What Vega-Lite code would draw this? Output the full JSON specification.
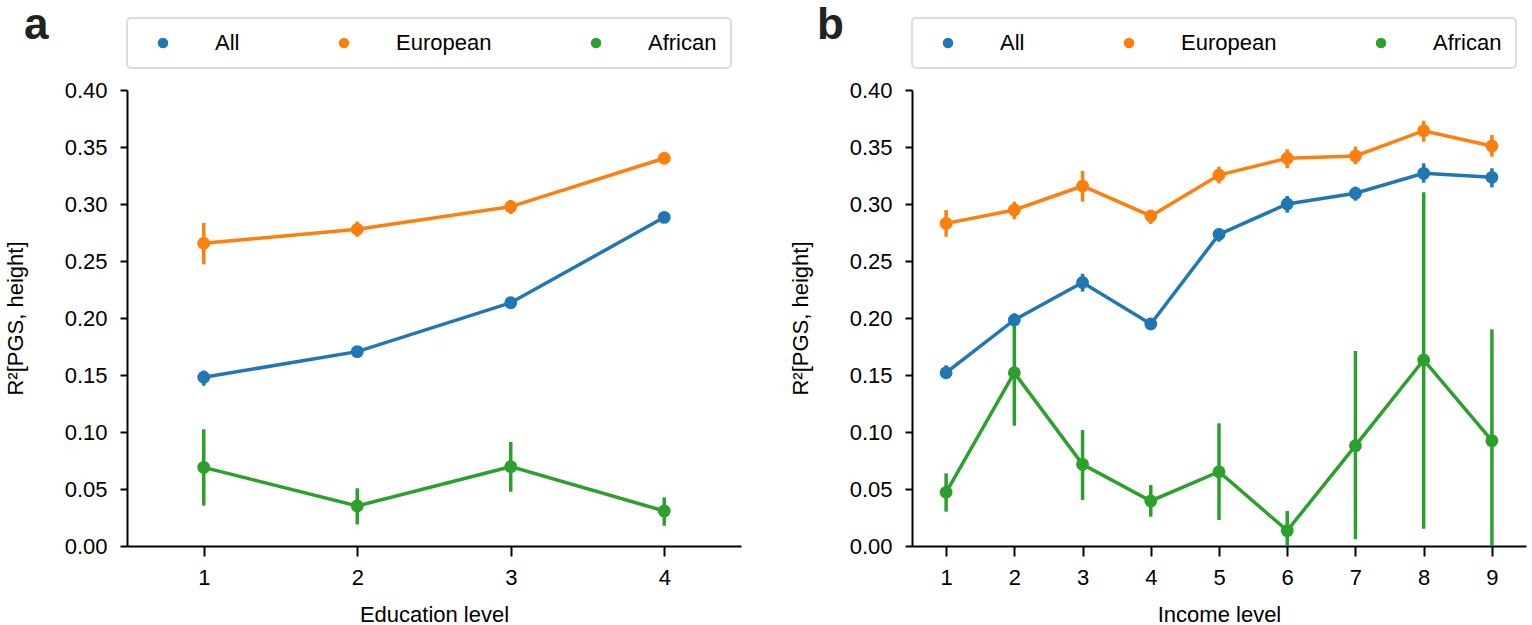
{
  "$schema": "https://vega.github.io/schema/vega-lite/v6.json",
  "background": "white",
  "padding": {"left": 4, "top": 3, "right": 5, "bottom": 0},
  "spacing": 171,
  "bounds": "flush",
  "datasets": {
    "edu": [
      {"level": 1, "group": "All", "r2": 0.148, "lo": 0.1406, "hi": 0.1539},
      {"level": 2, "group": "All", "r2": 0.1705, "lo": 0.1661, "hi": 0.1741},
      {"level": 3, "group": "All", "r2": 0.2134, "lo": 0.2104, "hi": 0.2164},
      {"level": 4, "group": "All", "r2": 0.2883, "lo": 0.2853, "hi": 0.2913},
      {"level": 1, "group": "European", "r2": 0.2655, "lo": 0.2471, "hi": 0.2834},
      {"level": 2, "group": "European", "r2": 0.2778, "lo": 0.2713, "hi": 0.2845},
      {"level": 3, "group": "European", "r2": 0.2977, "lo": 0.2912, "hi": 0.3035},
      {"level": 4, "group": "European", "r2": 0.3401, "lo": 0.3381, "hi": 0.3421},
      {"level": 1, "group": "African", "r2": 0.069, "lo": 0.0354, "hi": 0.1024},
      {"level": 2, "group": "African", "r2": 0.0351, "lo": 0.019, "hi": 0.0506},
      {"level": 3, "group": "African", "r2": 0.0696, "lo": 0.0476, "hi": 0.0912},
      {"level": 4, "group": "African", "r2": 0.0307, "lo": 0.0178, "hi": 0.0427}
    ],
    "inc": [
      {"level": 1, "group": "All", "r2": 0.152, "lo": 0.1471, "hi": 0.1585},
      {"level": 2, "group": "All", "r2": 0.1983, "lo": 0.1924, "hi": 0.2041},
      {"level": 3, "group": "All", "r2": 0.2311, "lo": 0.2231, "hi": 0.2388},
      {"level": 4, "group": "All", "r2": 0.1947, "lo": 0.1927, "hi": 0.1967},
      {"level": 5, "group": "All", "r2": 0.2734, "lo": 0.267, "hi": 0.2787},
      {"level": 6, "group": "All", "r2": 0.3, "lo": 0.2924, "hi": 0.307},
      {"level": 7, "group": "All", "r2": 0.3094, "lo": 0.3029, "hi": 0.3152},
      {"level": 8, "group": "All", "r2": 0.3269, "lo": 0.3187, "hi": 0.3357},
      {"level": 9, "group": "All", "r2": 0.3234, "lo": 0.3146, "hi": 0.3313},
      {"level": 1, "group": "European", "r2": 0.283, "lo": 0.2713, "hi": 0.2947},
      {"level": 2, "group": "European", "r2": 0.2947, "lo": 0.2866, "hi": 0.302},
      {"level": 3, "group": "European", "r2": 0.3158, "lo": 0.302, "hi": 0.329},
      {"level": 4, "group": "European", "r2": 0.2895, "lo": 0.2825, "hi": 0.2947},
      {"level": 5, "group": "European", "r2": 0.3254, "lo": 0.3181, "hi": 0.3327},
      {"level": 6, "group": "European", "r2": 0.3401, "lo": 0.3313, "hi": 0.348},
      {"level": 7, "group": "European", "r2": 0.3421, "lo": 0.3348, "hi": 0.3503},
      {"level": 8, "group": "European", "r2": 0.3643, "lo": 0.3547, "hi": 0.3731},
      {"level": 9, "group": "European", "r2": 0.3509, "lo": 0.3415, "hi": 0.3605},
      {"level": 1, "group": "African", "r2": 0.0471, "lo": 0.0301, "hi": 0.0637},
      {"level": 2, "group": "African", "r2": 0.152, "lo": 0.1055, "hi": 0.1997},
      {"level": 3, "group": "African", "r2": 0.0716, "lo": 0.0404, "hi": 0.1018},
      {"level": 4, "group": "African", "r2": 0.0395, "lo": 0.0257, "hi": 0.0535},
      {"level": 5, "group": "African", "r2": 0.0652, "lo": 0.0228, "hi": 0.1076},
      {"level": 6, "group": "African", "r2": 0.0135, "lo": 0.0, "hi": 0.0307},
      {"level": 7, "group": "African", "r2": 0.088, "lo": 0.0059, "hi": 0.1711},
      {"level": 8, "group": "African", "r2": 0.1632, "lo": 0.0152, "hi": 0.3103},
      {"level": 9, "group": "African", "r2": 0.0924, "lo": 0.0, "hi": 0.1901}
    ]
  },
  "hconcat": [
    {
      "data": {"name": "edu"},
      "width": 614,
      "height": 456,
      "title": {"text": "a", "anchor": "start", "frame": "group", "dx": -103, "dy": 30.5, "fontSize": 44, "fontWeight": "bold", "font": "Liberation Sans", "color": "#222222", "offset": 0},
      "encoding": {
        "x": {"field": "level", "type": "quantitative", "scale": {"domain": [0.5, 4.5], "nice": false, "zero": false}, "axis": {"title": "Education level", "values": [1, 2, 3, 4], "format": "d"}},
        "color": {"field": "group", "type": "nominal", "scale": {"domain": ["All", "European", "African"], "range": ["#1f77b4", "#ff7f0e", "#2ca02c"]}, "legend": {"title": null}}
      },
      "layer": [
        {"mark": {"type": "rule", "strokeWidth": 3.5}, "encoding": {"y": {"field": "lo", "type": "quantitative", "scale": {"domain": [0, 0.4], "nice": false}, "axis": {"title": "R²[PGS, height]", "values": [0, 0.05, 0.1, 0.15, 0.2, 0.25, 0.3, 0.35, 0.4], "format": ".2f"}}, "y2": {"field": "hi"}}},
        {"mark": {"type": "line", "strokeWidth": 3.5}, "encoding": {"y": {"field": "r2", "type": "quantitative"}}},
        {"mark": {"type": "point", "filled": true, "size": 165, "opacity": 1}, "encoding": {"y": {"field": "r2", "type": "quantitative"}}}
      ]
    },
    {
      "data": {"name": "inc"},
      "width": 614,
      "height": 456,
      "title": {"text": "b", "anchor": "start", "frame": "group", "dx": -95, "dy": 30.5, "fontSize": 44, "fontWeight": "bold", "font": "Liberation Sans", "color": "#222222", "offset": 0},
      "encoding": {
        "x": {"field": "level", "type": "quantitative", "scale": {"domain": [0.5, 9.5], "nice": false, "zero": false}, "axis": {"title": "Income level", "values": [1, 2, 3, 4, 5, 6, 7, 8, 9], "format": "d"}},
        "color": {"field": "group", "type": "nominal", "scale": {"domain": ["All", "European", "African"], "range": ["#1f77b4", "#ff7f0e", "#2ca02c"]}, "legend": {"title": null}}
      },
      "layer": [
        {"mark": {"type": "rule", "strokeWidth": 3.5}, "encoding": {"y": {"field": "lo", "type": "quantitative", "scale": {"domain": [0, 0.4], "nice": false}, "axis": {"title": "R²[PGS, height]", "values": [0, 0.05, 0.1, 0.15, 0.2, 0.25, 0.3, 0.35, 0.4], "format": ".2f"}}, "y2": {"field": "hi"}}},
        {"mark": {"type": "line", "strokeWidth": 3.5}, "encoding": {"y": {"field": "r2", "type": "quantitative"}}},
        {"mark": {"type": "point", "filled": true, "size": 165, "opacity": 1}, "encoding": {"y": {"field": "r2", "type": "quantitative"}}}
      ]
    }
  ],
  "resolve": {"scale": {"color": "independent"}, "legend": {"color": "independent"}},
  "config": {
    "font": "Liberation Sans",
    "view": {"stroke": null},
    "axis": {
      "grid": false,
      "domainColor": "#000000",
      "domainWidth": 2,
      "tickColor": "#000000",
      "tickWidth": 2,
      "labelFont": "Liberation Sans",
      "labelFontSize": 22,
      "labelColor": "#000000",
      "titleFont": "Liberation Sans",
      "titleFontSize": 22,
      "titleFontWeight": "normal",
      "titleColor": "#000000"
    },
    "axisX": {"tickSize": 10, "labelPadding": 11, "titlePadding": 16},
    "axisY": {"tickSize": 7, "labelPadding": 13, "titlePadding": 37},
    "legend": {
      "orient": "top",
      "direction": "horizontal",
      "columns": 3,
      "offset": 22,
      "padding": 14,
      "strokeColor": "#dddddd",
      "strokeWidth": 2,
      "fillColor": "#ffffff",
      "cornerRadius": 4,
      "symbolType": "circle",
      "symbolSize": 110,
      "symbolStrokeWidth": 0,
      "symbolOffset": 11,
      "labelOffset": 41,
      "columnPadding": 82,
      "labelFont": "Liberation Sans",
      "labelFontSize": 22,
      "labelColor": "#000000"
    }
  }
}
